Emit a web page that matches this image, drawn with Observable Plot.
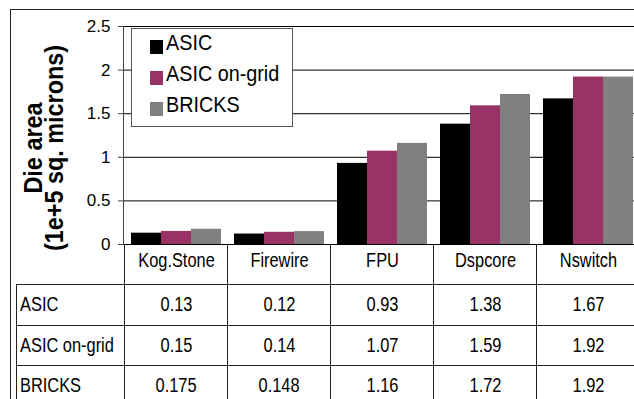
<!DOCTYPE html>
<html><head><meta charset="utf-8">
<script src="https://cdn.jsdelivr.net/npm/d3@7"></script>
<script src="https://cdn.jsdelivr.net/npm/@observablehq/plot@0.6"></script>
<style>
html,body{margin:0;padding:0;background:#fff;overflow:hidden;}
#wrap{position:relative;width:660px;height:399px;overflow:hidden;font-family:"Liberation Sans",Arial,sans-serif;}
#wrap svg{position:absolute;left:0;top:0;}
.hl{position:absolute;height:0;border-top:1px solid #222;}
.vl{position:absolute;width:0;border-left:1px solid #222;}
.cell{position:absolute;display:flex;align-items:center;font-family:"Liberation Sans",Arial,sans-serif;font-size:20px;color:#000;white-space:nowrap;box-sizing:border-box;}
.cell span{display:inline-block;transform:scaleX(0.82);}
.legend{position:absolute;left:131px;top:28px;width:162px;height:99px;box-sizing:border-box;border:1px solid #555;background:#fff;}
.sw{position:absolute;width:13px;height:14px;}
.lt{position:absolute;font-size:21.5px;line-height:20px;white-space:nowrap;color:#000;transform:scaleX(0.92);transform-origin:0 50%;}
.ytitle{position:absolute;left:23px;top:265px;width:260px;transform-origin:0 0;transform:rotate(-90deg) scaleX(0.9);text-align:center;font-weight:bold;font-size:26px;line-height:21px;white-space:nowrap;color:#000;}
</style></head><body><div id="wrap"></div>
<script>
const categories = ["Kog.Stone", "Firewire", "FPU", "Dspcore", "Nswitch"];
const series = ["ASIC", "ASIC on-grid", "BRICKS"];
const asic = [0.13, 0.12, 0.93, 1.38, 1.67];
const asicOnGrid = [0.15, 0.14, 1.07, 1.59, 1.92];
const bricks = [0.175, 0.148, 1.16, 1.72, 1.92];
const colors = ["#000000", "#993366", "#808080"];
const yTicks = [0, 0.5, 1, 1.5, 2, 2.5];
const yTickLabels = ["0", "0.5", "1", "1.5", "2", "2.5"];
const titleLines = ["Die area", "(1e+5 sq. microns)"];

const values = [asic, asicOnGrid, bricks];
const data = categories.flatMap((c, i) => series.map((s, k) => ({category: c, series: s, value: values[k][i]})));

const wrap = document.getElementById("wrap");
const base = {
  width: 660, height: 284,
  marginTop: 26, marginBottom: 40, marginLeft: 123, marginRight: 19,
  style: {background: "transparent", fontFamily: '"Liberation Sans",Arial,sans-serif', color: "#000", overflow: "visible"}
};

// background layer: gridlines and y axis across the full plot width
const gridChart = Plot.plot({
  ...base,
  y: {domain: [0, 2.5]},
  marks: [
    Plot.gridY(yTicks, {stroke: "#000", strokeOpacity: 1}),
    Plot.frame({anchor: "left", stroke: "#444"}),
    Plot.axisY(yTicks, {tickSize: 5, tickPadding: 8, fontSize: 17, label: null, stroke: "#444",
      tickFormat: d => yTickLabels[yTicks.indexOf(d)]})
  ]
});
wrap.appendChild(gridChart);

// bar layer: grouped bars faceted by category
const chart = Plot.plot({
  ...base,
  fx: {domain: categories, paddingInner: 0.131, paddingOuter: 0.0656, label: null},
  x: {domain: series, padding: 0, axis: null},
  y: {domain: [0, 2.5], axis: null},
  color: {domain: series, range: colors},
  marks: [
    Plot.barY(data, {fx: "category", x: "series", y: "value", fill: "series"}),
    Plot.axisFx({anchor: "bottom", tickSize: 0, tickPadding: 8, fontSize: 20, label: null})
  ]
});
wrap.appendChild(chart);
// condense the category labels (narrow font look)
d3.select(chart).selectAll('g[aria-label="fx-axis tick label"] text').each(function () {
  const t = this.getAttribute("transform") || "";
  this.setAttribute("transform", t + " scale(0.82,1)");
});

function line(cls, x, y, len) {
  const d = document.createElement("div");
  d.className = cls;
  d.style.left = x + "px"; d.style.top = y + "px";
  if (cls === "hl") d.style.width = len + "px"; else d.style.height = len + "px";
  wrap.appendChild(d);
}
function cell(text, x, y, w, h, align) {
  const d = document.createElement("div");
  d.className = "cell";
  const s = document.createElement("span");
  s.textContent = text;
  s.style.transformOrigin = align === "left" ? "0 50%" : "50% 50%";
  d.appendChild(s);
  Object.assign(d.style, {left: x + "px", top: y + "px", width: w + "px", height: h + "px",
    justifyContent: align === "left" ? "flex-start" : "center", paddingLeft: align === "left" ? "4px" : "0"});
  wrap.appendChild(d);
}

// table geometry from the fx scale
const fx = chart.scale("fx");
const pin = fx.paddingInner ?? 0.131;
const bw = fx.bandwidth;
const step = bw / (1 - pin);
const bounds = categories.map(c => fx.apply(c) - pin * step / 2);
bounds.push(bounds[bounds.length - 1] + step);
const headTop = 244, rowTops = [284, 325, 365], rowH = 40;

// outer frame
line("vl", 10, 9, 400);
line("hl", 10, 9, 660);
// table lines
bounds.forEach(b => line("vl", Math.round(b), headTop, 160));
rowTops.forEach(t => line("hl", 16, t, 660));
line("vl", 16, rowTops[0], 120);
// data rows
series.forEach((s, k) => {
  cell(s, 16, rowTops[k], bounds[0] - 16, rowH, "left");
  categories.forEach((c, i) => cell(String(values[k][i]), bounds[i], rowTops[k], step, rowH, "center"));
});

// legend
const lg = document.createElement("div");
lg.className = "legend";
wrap.appendChild(lg);
series.forEach((s, k) => {
  const sw = document.createElement("div");
  sw.className = "sw";
  Object.assign(sw.style, {left: "150px", top: (40 + 31 * k) + "px", background: colors[k]});
  wrap.appendChild(sw);
  const t = document.createElement("div");
  t.className = "lt";
  t.textContent = s;
  Object.assign(t.style, {left: "166px", top: (33 + 31 * k) + "px"});
  wrap.appendChild(t);
});

// y title
const yt = document.createElement("div");
yt.className = "ytitle";
yt.innerHTML = titleLines.map(l => "<div>" + l + "</div>").join("");
wrap.appendChild(yt);
</script>
</body></html>
